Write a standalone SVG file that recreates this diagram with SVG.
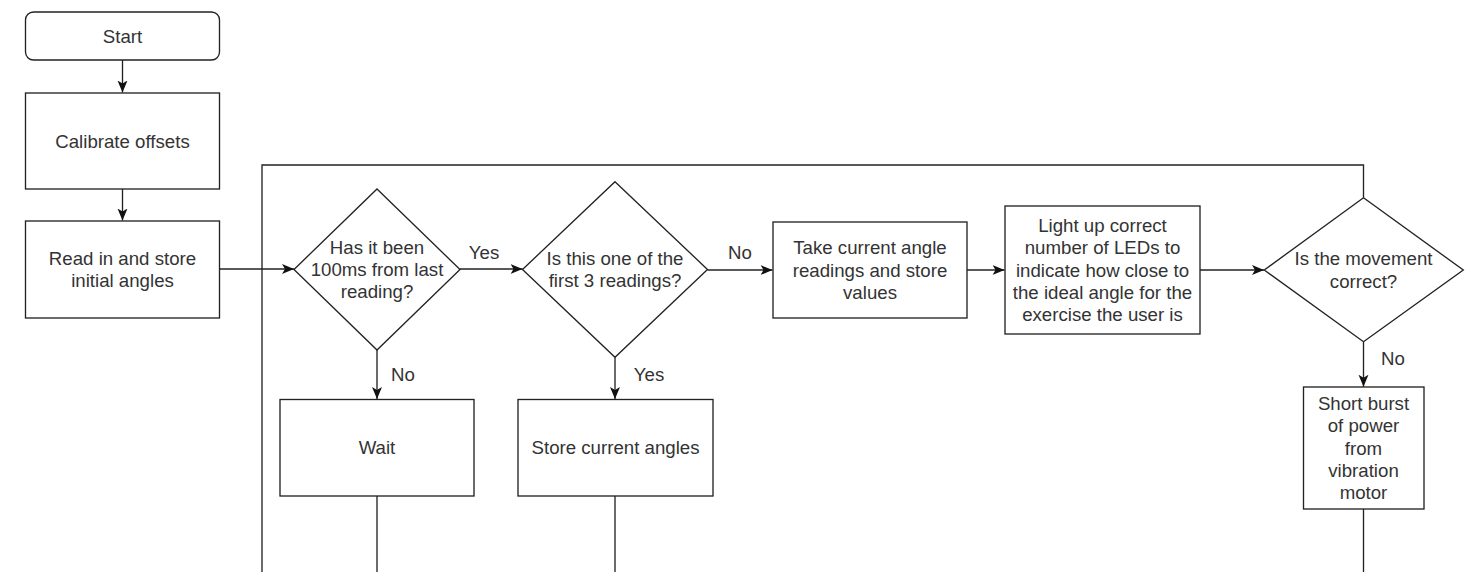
<svg xmlns="http://www.w3.org/2000/svg" width="1482" height="572" viewBox="0 0 1482 572">
<style>
.shape{fill:#ffffff;stroke:#222222;stroke-width:1.33}
.edge{fill:none;stroke:#222222;stroke-width:1.33}
.t{font-family:"Liberation Sans",Arial,sans-serif;font-size:18.67px;fill:#333333;text-anchor:middle}
</style>
<defs>
<marker id="arr" markerUnits="userSpaceOnUse" markerWidth="14" markerHeight="12" refX="12" refY="5.5" orient="auto">
<path d="M0,0.5 L12,5.5 L0,10.5 L3,5.5 Z" fill="#111111"/>
</marker>
</defs>
<rect width="1482" height="572" fill="#ffffff"/>
<g id="connectors">
<path class="edge" d="M1363.5,197.7 V165 H262 V572"/>
<path class="edge" d="M122.5,60 V92.5" marker-end="url(#arr)"/>
<path class="edge" d="M122.5,189 V220.5" marker-end="url(#arr)"/>
<path class="edge" d="M219.5,269 H294" marker-end="url(#arr)"/>
<path class="edge" d="M460,269 H522.5" marker-end="url(#arr)"/>
<path class="edge" d="M707.5,270 H772.5" marker-end="url(#arr)"/>
<path class="edge" d="M967,270 H1004.5" marker-end="url(#arr)"/>
<path class="edge" d="M1200,270 H1264" marker-end="url(#arr)"/>
<path class="edge" d="M377,350 V399" marker-end="url(#arr)"/>
<path class="edge" d="M615,357.3 V399" marker-end="url(#arr)"/>
<path class="edge" d="M1363.5,341.7 V386.7" marker-end="url(#arr)"/>
<path class="edge" d="M377,496 V572"/>
<path class="edge" d="M615,496 V572"/>
<path class="edge" d="M1363.5,509 V572"/>
<text class="t" x="484" y="258.5">Yes</text>
<text class="t" x="740" y="258.5">No</text>
<text class="t" x="403" y="380.5">No</text>
<text class="t" x="649" y="380.5">Yes</text>
<text class="t" x="1393" y="364.5">No</text>
</g>
<g id="start">
<rect class="shape" x="25.5" y="12" width="194" height="48" rx="8" ry="8"/>
<text class="t" x="122.5" y="42.5">Start</text>
</g>
<g id="calibrate">
<rect class="shape" x="25.5" y="93" width="194" height="96"/>
<text class="t" x="122.5" y="147.5">Calibrate offsets</text>
</g>
<g id="read">
<rect class="shape" x="25.5" y="221" width="194" height="97"/>
<text class="t" x="122.5" y="264.8">Read in and store</text>
<text class="t" x="122.5" y="287.2">initial angles</text>
</g>
<g id="check100ms">
<polygon class="shape" points="377,189 460,269.5 377,350 294,269.5"/>
<text class="t" x="377" y="253.6">Has it been</text>
<text class="t" x="377" y="276">100ms from last</text>
<text class="t" x="377" y="298.4">reading?</text>
</g>
<g id="checkFirst3">
<polygon class="shape" points="615,181.7 707.5,269.5 615,357.3 522.5,269.5"/>
<text class="t" x="615" y="264.8">Is this one of the</text>
<text class="t" x="615" y="287.2">first 3 readings?</text>
</g>
<g id="takeReadings">
<rect class="shape" x="773" y="222" width="194" height="96"/>
<text class="t" x="870" y="254.1">Take current angle</text>
<text class="t" x="870" y="276.5">readings and store</text>
<text class="t" x="870" y="298.9">values</text>
</g>
<g id="lightLeds">
<rect class="shape" x="1005" y="206" width="195" height="128"/>
<text class="t" x="1102.5" y="231.7">Light up correct</text>
<text class="t" x="1102.5" y="254.1">number of LEDs to</text>
<text class="t" x="1102.5" y="276.5">indicate how close to</text>
<text class="t" x="1102.5" y="298.9">the ideal angle for the</text>
<text class="t" x="1102.5" y="321.3">exercise the user is</text>
</g>
<g id="checkMovement">
<polygon class="shape" points="1363.5,197.7 1463.3,270 1363.5,341.7 1264.3,270"/>
<text class="t" x="1363.5" y="265.3">Is the movement</text>
<text class="t" x="1363.5" y="287.7">correct?</text>
</g>
<g id="wait">
<rect class="shape" x="280" y="399.5" width="194" height="96.5"/>
<text class="t" x="377" y="454">Wait</text>
</g>
<g id="storeAngles">
<rect class="shape" x="518" y="399.5" width="195" height="96.5"/>
<text class="t" x="615.5" y="454">Store current angles</text>
</g>
<g id="vibrate">
<rect class="shape" x="1303.5" y="387" width="120.5" height="122"/>
<text class="t" x="1363.5" y="409.7">Short burst</text>
<text class="t" x="1363.5" y="432.1">of power</text>
<text class="t" x="1363.5" y="454.5">from</text>
<text class="t" x="1363.5" y="476.9">vibration</text>
<text class="t" x="1363.5" y="499.3">motor</text>
</g>
</svg>
